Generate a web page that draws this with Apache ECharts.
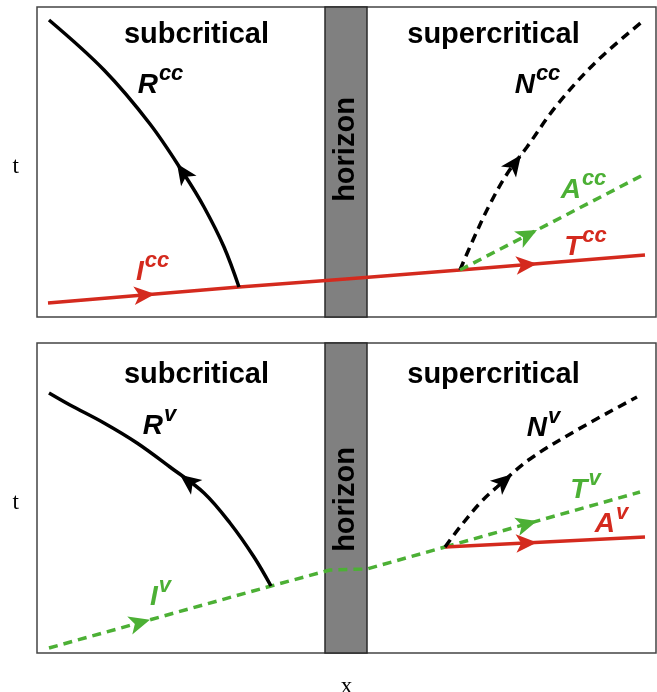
<!DOCTYPE html>
<html>
<head>
<meta charset="utf-8">
<script src="https://cdn.jsdelivr.net/npm/echarts@6/dist/echarts.min.js"></script>
<style>
html,body{margin:0;padding:0;background:#fff}
#chart{width:657px;height:692px}
</style>
</head>
<body>
<div id="chart"></div>
<script>
// coordinates inside each panel: x to the right, t upward from the panel bottom
var horizonX = [288, 330];

// top panel (cc)
var Icc = [[11,14],[202,30],[309,38]];
var Tcc = [[309,38],[423,47],[608,62]];
var Rcc = [[202,30],[187,70],[167,110],[147,143],[113,193],[67,247],[12,297]];
var Ncc = [[423,47],[436,77],[453,113],[470,143],[490,170],[520,212],[560,256],[606,296]];
var Acc = [[423,47],[606,142]];

// bottom panel (v)
var Iv = [[12,5],[234,67],[293,83],[330,84],[408,106]];
var Tv = [[408,106],[603,161]];
var Av = [[408,106],[608,116]];
var Rv = [[234,67],[217,96],[193,130],[167,160],[133,186],[100,210],[67,230],[33,248],[12,260]];
var Nv = [[408,106],[423,126],[443,150],[460,166],[493,194],[540,223],[600,256]];

// where the arrow heads sit (x along each path)
var arrowsTop = [['Icc',118],['Tcc',500],['Rcc',140],['Ncc',484],['Acc',500]];
var arrowsBottom = [['Iv',113],['Tv',500],['Av',500],['Rv',143],['Nv',475]];

var RED = '#d42a1e', GREEN = '#4cb035', BLACK = '#000';
var paths = {Icc:Icc, Tcc:Tcc, Rcc:Rcc, Ncc:Ncc, Acc:Acc, Iv:Iv, Tv:Tv, Av:Av, Rv:Rv, Nv:Nv};
var style = {
  Icc:[RED,false], Tcc:[RED,false], Rcc:[BLACK,false], Ncc:[BLACK,true], Acc:[GREEN,true],
  Iv:[GREEN,true], Tv:[GREEN,true], Av:[RED,false], Rv:[BLACK,false], Nv:[BLACK,true]
};

// text annotations: [x, t, main, sup, color]
var labelsTop = [
  [124,231,'R','cc',BLACK],[116,44,'I','cc',RED],[501,231,'N','cc',BLACK],
  [547,126,'A','cc',GREEN],[549,69,'T','cc',RED]
];
var labelsBottom = [
  [123,226,'R','v',BLACK],[124,55,'I','v',GREEN],[507,224,'N','v',BLACK],
  [549,162,'T','v',GREEN],[575,128,'A','v',RED]
];
var titles = [[160,282,'subcritical'],[457,282,'supercritical']];
var horizonT = [167, 153];

function arrowAt(pts, x) {
  for (var i = 0; i < pts.length - 1; i++) {
    var a = pts[i], b = pts[i+1];
    var lo = Math.min(a[0], b[0]), hi = Math.max(a[0], b[0]);
    if (x >= lo && x <= hi) {
      var f = (x - a[0]) / (b[0] - a[0]);
      var t = a[1] + f * (b[1] - a[1]);
      var ang = Math.atan2(b[1] - a[1], b[0] - a[0]) * 180 / Math.PI;
      return [x, t, ang - 90];
    }
  }
}

var font = 'Liberation Sans, Arial, sans-serif';
var rich = {
  m:{fontFamily:font, fontSize:28, fontWeight:'bold', fontStyle:'italic', lineHeight:28},
  s:{fontFamily:font, fontSize:22, fontWeight:'bold', fontStyle:'italic', lineHeight:22, padding:[0,0,24,1]}
};

var series = [];
[0,1].forEach(function (gi) {
  // horizon band
  series.push({
    type:'line', xAxisIndex:gi, yAxisIndex:gi, data:[], z:1, silent:true,
    markArea:{silent:true, itemStyle:{color:'#808080', borderColor:'#2a2a2a', borderWidth:1.5},
      data:[[{xAxis:horizonX[0]},{xAxis:horizonX[1]}]]}
  });
  var names = gi === 0 ? ['Icc','Tcc','Rcc','Ncc','Acc'] : ['Iv','Tv','Av','Rv','Nv'];
  names.forEach(function (n) {
    var st = style[n];
    series.push({
      type:'line', name:n, xAxisIndex:gi, yAxisIndex:gi, data:paths[n], z:3,
      symbol:'none', smooth:paths[n].length > 5 ? 0.35 : false,
      lineStyle:{color:st[0], width:3.5, type:st[1] ? [9,6] : 'solid', cap:'butt'}
    });
  });
  var arrows = gi === 0 ? arrowsTop : arrowsBottom;
  arrows.forEach(function (a) {
    series.push({
      type:'scatter', xAxisIndex:gi, yAxisIndex:gi, z:4, silent:true,
      symbol:'arrow', symbolSize:[14,21],
      symbolRotate:function (v) { return v[2]; },
      itemStyle:{color:style[a[0]][0], opacity:1},
      data:[arrowAt(paths[a[0]], a[1])]
    });
  });
  var labs = gi === 0 ? labelsTop : labelsBottom;
  var data = labs.map(function (l) {
    return {value:[l[0], l[1]], label:{formatter:'{m|' + l[2] + '}{s|' + l[3] + '}', color:l[4]}};
  });
  titles.forEach(function (t) {
    data.push({value:[t[0], gi === 0 ? t[1] : t[1] - 4],
      label:{formatter:t[2], fontFamily:font, fontSize:29, fontWeight:'bold', color:'#000'}});
  });
  data.push({value:[(horizonX[0] + horizonX[1]) / 2, horizonT[gi]],
    label:{formatter:'horizon', rotate:90, fontFamily:font, fontSize:29, fontWeight:'bold', color:'#000'}});
  series.push({
    type:'scatter', xAxisIndex:gi, yAxisIndex:gi, z:5, silent:true,
    symbolSize:1, itemStyle:{color:'rgba(255,255,255,0)'},
    label:{show:true, position:[0,0], align:'center', verticalAlign:'middle',
      textBorderWidth:0, opacity:1, rich:rich},
    data:data
  });
});

var axisOff = {axisLine:{show:false}, axisTick:{show:false}, axisLabel:{show:false}, splitLine:{show:false}};
var serif = {fontFamily:'Liberation Serif, Times New Roman, serif', fontSize:23, color:'#000'};
var serifT = Object.assign({rich:{a:{fontFamily:serif.fontFamily, fontSize:23, color:'#000', padding:[10,0,0,0]}}}, serif);

var option = {
  animation:false,
  grid:[
    {left:37, top:7, width:619, height:310, show:true, borderColor:'#444', borderWidth:1.5, outerBoundsMode:'none'},
    {left:37, top:343, width:619, height:310, show:true, borderColor:'#444', borderWidth:1.5, outerBoundsMode:'none'}
  ],
  xAxis:[
    Object.assign({type:'value', gridIndex:0, min:0, max:619}, axisOff),
    Object.assign({type:'value', gridIndex:1, min:0, max:619, name:'x', nameLocation:'middle', nameGap:22, nameTextStyle:serif}, axisOff)
  ],
  yAxis:[
    Object.assign({type:'value', gridIndex:0, min:0, max:310, name:'{a|t}', nameLocation:'middle', nameRotate:0, nameGap:18, nameTextStyle:serifT}, axisOff),
    Object.assign({type:'value', gridIndex:1, min:0, max:310, name:'{a|t}', nameLocation:'middle', nameRotate:0, nameGap:18, nameTextStyle:serifT}, axisOff)
  ],
  series:series
};

var myChart = echarts.init(document.getElementById('chart'));
myChart.setOption(option);
</script>
</body>
</html>
